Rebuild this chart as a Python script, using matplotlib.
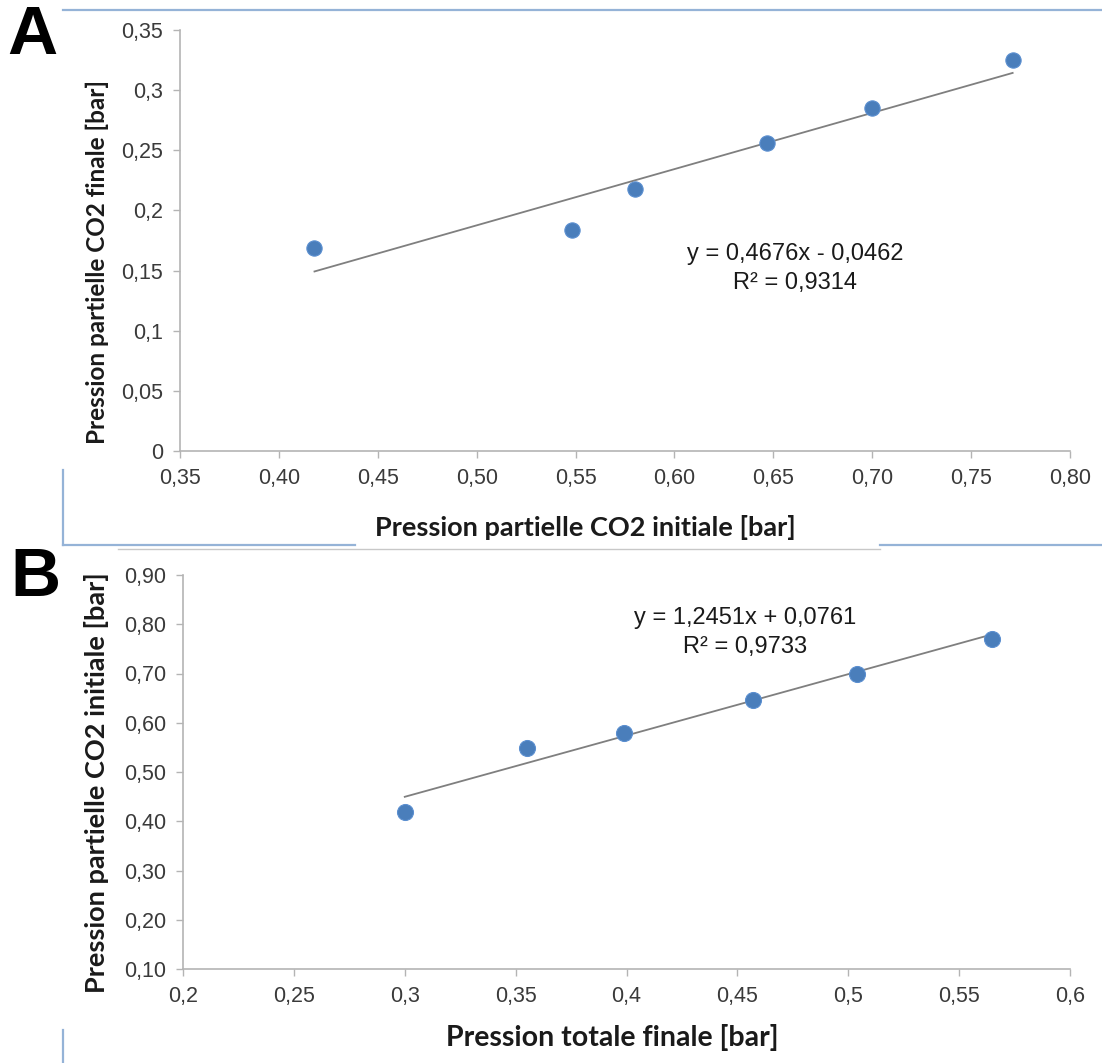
import matplotlib
matplotlib.use("Agg")
import matplotlib.pyplot as plt
from matplotlib.lines import Line2D

# ---- data ----
# panel A : initial CO2 partial pressure vs final CO2 partial pressure
co2_init = [0.418, 0.548, 0.580, 0.647, 0.700, 0.771]
co2_final = [0.169, 0.184, 0.218, 0.256, 0.285, 0.325]
fit_a = (0.4676, -0.0462)
eq_a = "y = 0,4676x - 0,0462"
r2_a = "R² = 0,9314"

# panel B : total final pressure vs initial CO2 partial pressure
p_tot_final = [0.300, 0.355, 0.399, 0.457, 0.504, 0.565]
co2_init_b = [0.418, 0.548, 0.580, 0.647, 0.700, 0.771]
fit_b = (1.2451, 0.0761)
eq_b = "y = 1,2451x + 0,0761"
r2_b = "R² = 0,9733"

xticks_a = [0.35, 0.40, 0.45, 0.50, 0.55, 0.60, 0.65, 0.70, 0.75, 0.80]
xlabels_a = ["0,35", "0,40", "0,45", "0,50", "0,55", "0,60", "0,65", "0,70", "0,75", "0,80"]
yticks_a = [0, 0.05, 0.1, 0.15, 0.2, 0.25, 0.3, 0.35]
ylabels_a = ["0", "0,05", "0,1", "0,15", "0,2", "0,25", "0,3", "0,35"]

xticks_b = [0.2, 0.25, 0.3, 0.35, 0.4, 0.45, 0.5, 0.55, 0.6]
xlabels_b = ["0,2", "0,25", "0,3", "0,35", "0,4", "0,45", "0,5", "0,55", "0,6"]
yticks_b = [0.1, 0.2, 0.3, 0.4, 0.5, 0.6, 0.7, 0.8, 0.9]
ylabels_b = ["0,10", "0,20", "0,30", "0,40", "0,50", "0,60", "0,70", "0,80", "0,90"]

BLUE = "#4a7ebb"
AXIS = "#b4b4b4"
TICKTXT = "#3a3a3a"
FRAME = "#95b3d7"
LABEL_FONT = ["Lato", "Open Sans", "DejaVu Sans"]

plt.rcParams["font.family"] = ["Liberation Sans", "DejaVu Sans"]

fig = plt.figure(figsize=(11.02, 10.63), dpi=100)


def style_axes(ax, xt, xl, yt, yl):
    for s in ["top", "right"]:
        ax.spines[s].set_visible(False)
    for s in ["left", "bottom"]:
        ax.spines[s].set_color(AXIS)
        ax.spines[s].set_linewidth(1.2)
    ax.set_xticks(xt)
    ax.set_yticks(yt)
    ax.set_xticklabels(xl)
    ax.set_yticklabels(yl)
    ax.tick_params(axis="both", direction="out", length=5, width=1.0,
                   color=AXIS, labelcolor=TICKTXT, labelsize=15.5)
    ax.tick_params(axis="x", pad=7)
    ax.tick_params(axis="y", pad=7)


def put_labels(ax, xlab, xsize, xpos, ylab, ysize, ypos):
    ax.set_xlabel(xlab, fontsize=xsize, fontweight="bold", family=LABEL_FONT,
                  color="#1a1a1a")
    ax.xaxis.set_label_coords(*xpos)
    ax.xaxis.label.set_va("center")
    ax.set_ylabel(ylab, fontsize=ysize, fontweight="bold", family=LABEL_FONT,
                  color="#1a1a1a")
    ax.yaxis.set_label_coords(*ypos)
    ax.yaxis.label.set_va("center")


# ---- panel A ----
axA = fig.add_axes([180 / 1102, 1 - 451 / 1063, 890 / 1102, 421 / 1063])
axA.set_xlim(0.35, 0.80)
axA.set_ylim(0, 0.35)
xa = [min(co2_init), max(co2_init)]
axA.plot(xa, [fit_a[0] * v + fit_a[1] for v in xa], color="#7f7f7f", lw=1.3, zorder=2)
axA.plot(co2_init, co2_final, "o", color=BLUE, markersize=11,
         markeredgecolor="#5b8fd0", markeredgewidth=0.8, zorder=3, clip_on=False)
style_axes(axA, xticks_a, xlabels_a, yticks_a, ylabels_a)
put_labels(axA, "Pression partielle CO2 initiale [bar]", 19.5, (0.456, -0.181),
           "Pression partielle CO2 finale [bar]", 17.5, (-0.093, 0.449))
axA.text(0.691, 0.468, eq_a, transform=axA.transAxes, ha="center", va="center",
         fontsize=17, color="#1a1a1a")
axA.text(0.691, 0.399, r2_a, transform=axA.transAxes, ha="center", va="center",
         fontsize=17, color="#1a1a1a")

# ---- panel B ----
axB = fig.add_axes([183 / 1102, 1 - 969 / 1063, 887 / 1102, 394 / 1063])
axB.set_xlim(0.2, 0.6)
axB.set_ylim(0.1, 0.9)
xb = [min(p_tot_final), max(p_tot_final)]
axB.plot(xb, [fit_b[0] * v + fit_b[1] for v in xb], color="#7f7f7f", lw=1.3, zorder=2)
axB.plot(p_tot_final, co2_init_b, "o", color=BLUE, markersize=11.5,
         markeredgecolor="#5b8fd0", markeredgewidth=0.8, zorder=3, clip_on=False)
style_axes(axB, xticks_b, xlabels_b, yticks_b, ylabels_b)
put_labels(axB, "Pression totale finale [bar]", 20.5, (0.484, -0.173),
           "Pression partielle CO2 initiale [bar]", 19.5, (-0.097, 0.472))
axB.text(0.634, 0.891, eq_b, transform=axB.transAxes, ha="center", va="center",
         fontsize=17, color="#1a1a1a")
axB.text(0.634, 0.817, r2_b, transform=axB.transAxes, ha="center", va="center",
         fontsize=17, color="#1a1a1a")

# panel letters
fig.text(32 / 1102, 1 - 36 / 1063, "A", fontsize=50, fontweight="bold",
         ha="center", va="center")
fig.text(35 / 1102, 1 - 578 / 1063, "B", fontsize=50, fontweight="bold",
         ha="center", va="center")


# light frame lines around the panels (pixel coords -> figure fraction)
def frame_line(x0, y0, x1, y1, color=FRAME, lw=1.6):
    fig.add_artist(Line2D([x0 / 1102, x1 / 1102], [1 - y0 / 1063, 1 - y1 / 1063],
                          transform=fig.transFigure, color=color, lw=lw))


frame_line(63, 10, 1102, 10)
frame_line(63, 470, 63, 545)
frame_line(63, 545, 355, 545)
frame_line(880, 545, 1102, 545)
frame_line(118, 549, 880, 549, color="#c8c8c8", lw=1.0)
frame_line(63, 1030, 63, 1063)

fig.savefig("out.png", dpi=100, facecolor="white")
